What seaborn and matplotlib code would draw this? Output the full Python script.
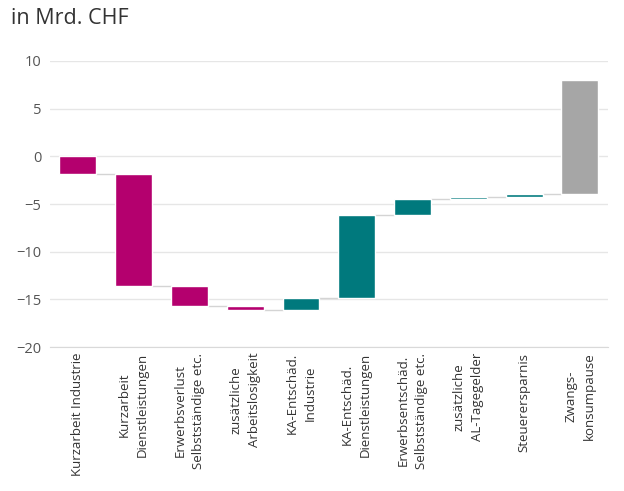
import numpy as np
import pandas as pd
import seaborn as sns
import matplotlib
matplotlib.use("Agg")
import matplotlib.pyplot as plt

# Daten: Beiträge in Mrd. CHF (Wasserfall)
kategorien = ["Kurzarbeit Industrie", "Kurzarbeit\nDienstleistungen",
              "Erwerbsverlust\nSelbstständige etc.", "zusätzliche\nArbeitslosigkeit",
              "KA-Entschäd.\nIndustrie", "KA-Entschäd.\nDienstleistungen",
              "Erwerbsentschäd.\nSelbstständige etc.", "zusätzliche\nAL-Tagegelder",
              "Steuerersparnis", "Zwangs-\nkonsumpause"]
werte = [-1.9, -11.7, -2.1, -0.4, 1.3, 8.65, 1.65, 0.25, 0.25, 12.0]
gruppe = ["Verlust"] * 4 + ["Entschädigung"] * 5 + ["Konsum"]

farben = {"Verlust": "#B4006E", "Entschädigung": "#00797D", "Konsum": "#A6A6A6"}

## Wasserfall berechnen
ende = np.cumsum(werte)
start = ende - np.array(werte)
df = pd.DataFrame({"kategorie": kategorien, "wert": werte, "gruppe": gruppe,
                   "unten": np.minimum(start, ende), "hoehe": np.abs(werte)})

sns.set_style("white")
plt.rcParams['font.family'] = ['Open Sans', 'DejaVu Sans']

fig = plt.figure(figsize=(6.24, 4.91), dpi=100)
ax = fig.add_axes([0.08, 0.293, 0.894, 0.583])

sns.barplot(data=df, x="kategorie", y="hoehe", hue="gruppe", palette=farben,
            dodge=False, width=0.66, legend=False, ax=ax, saturation=1, zorder=3)

### Balken auf Startwert verschieben
for p in ax.patches:
    i = int(round(p.get_x() + p.get_width() / 2))
    if 0 <= i < len(df):
        p.set_y(df["unten"][i])

### Verbindungslinien
for i in range(len(df) - 1):
    ax.hlines(ende[i], i + 0.33, i + 1 - 0.33, color="#D4D4D4", lw=1, zorder=2)

ax.set_ylim(-20, 10)
ax.set_xlim(-0.5, len(df) - 0.5)
ax.set_yticks([-20, -15, -10, -5, 0, 5, 10])
ax.yaxis.grid(True, color="#E6E6E6", lw=1, zorder=0)
for s in ["top", "right", "left"]:
    ax.spines[s].set_visible(False)
ax.spines["bottom"].set_color("#D9D9D9")
ax.tick_params(axis="y", length=0, labelsize=10.5, labelcolor="#555555", pad=6)
ax.tick_params(axis="x", length=0, pad=4)
ax.set_xticks(range(len(df)))
ax.set_xticklabels(kategorien, rotation=90, fontsize=9.5, color="#333333",
                   va="top", ha="center", multialignment="center", linespacing=1.5)
ax.set_xticks(np.arange(0.5, len(df) - 0.5), minor=True)
ax.tick_params(axis="x", which="minor", length=4, color="#D9D9D9")
ax.set_xlabel("")
ax.set_ylabel("")

fig.text(0.018, 0.963, "in Mrd. CHF", fontsize=15.5, color="#333333", va="center")

fig.savefig("out.png", dpi=100)
